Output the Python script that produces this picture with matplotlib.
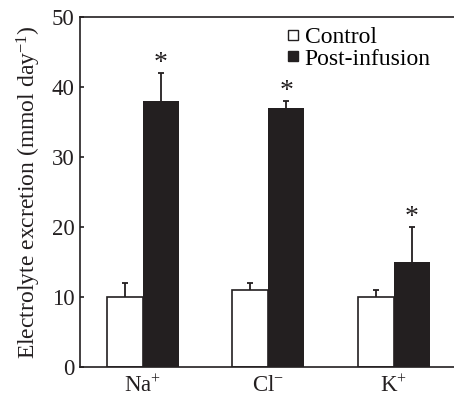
import matplotlib
matplotlib.use("Agg")
import matplotlib.pyplot as plt
import numpy as np
from matplotlib.lines import Line2D

plt.rcParams['font.family'] = ['Liberation Serif', 'DejaVu Serif']
plt.rcParams['mathtext.fontset'] = 'custom'
plt.rcParams['mathtext.rm'] = 'Liberation Serif'
plt.rcParams['mathtext.it'] = 'Liberation Serif:italic'
plt.rcParams['mathtext.bf'] = 'Liberation Serif:bold'

categories = ["Na$^{+}$", "Cl$^{-}$", "K$^{+}$"]
control = [10, 11, 10]
control_err = [2, 1, 1]
post = [38, 37, 15]
post_err = [4, 1, 5]
significant = [True, True, True]

fig = plt.figure(figsize=(4.54, 3.98), dpi=100)
ax = fig.add_axes([0.176, 0.078, 0.824, 0.879])

x = np.arange(len(categories))
w = 0.287
dark = '#231f20'
control = np.array(control)
post = np.array(post)
control_err = np.array(control_err)
post_err = np.array(post_err)

ax.bar(x - w/2, control, w, color='white', edgecolor=dark, linewidth=1.2, zorder=2)
ax.bar(x + w/2, post, w, color=dark, edgecolor='none', linewidth=0, zorder=2)

cap = 0.025
for xs, vals, errs in [(x - w/2, control, control_err), (x + w/2, post, post_err)]:
    ax.vlines(xs, vals, vals + errs, color=dark, linewidth=1.3, zorder=1)
    ax.hlines(vals + errs, xs - cap, xs + cap, color=dark, linewidth=1.3, zorder=1)

for xi, p, e, s in zip(x, post, post_err, significant):
    if s:
        ax.text(xi + w/2, p + e + 1.3, '*', ha='center', va='center', fontsize=20, color=dark)

ax.set_xlim(-0.5, 2.48)
ax.set_ylim(0, 50)
ax.set_yticks([0, 10, 20, 30, 40, 50])
ax.set_xticks(x)
ax.set_xticklabels(categories)
ax.tick_params(axis='y', direction='in', length=3, width=1.2, labelsize=16.5, pad=4, colors=dark)
ax.tick_params(axis='x', length=0, labelsize=16.5, pad=6, colors=dark)
ax.set_ylabel('Electrolyte excretion (mmol day$^{-1}$)', fontsize=17, color=dark, labelpad=6)
for s in ['left', 'bottom', 'top']:
    ax.spines[s].set_linewidth(1.2)
    ax.spines[s].set_color(dark)
ax.spines['right'].set_visible(False)

handles = [Line2D([], [], marker='s', linestyle='none', markersize=7,
                  markerfacecolor='white', markeredgecolor=dark, markeredgewidth=1.0),
           Line2D([], [], marker='s', linestyle='none', markersize=7,
                  markerfacecolor=dark, markeredgecolor=dark)]
ax.legend(handles, ['Control', 'Post-infusion'], loc='upper left',
          bbox_to_anchor=(0.525, 1.0), frameon=False, fontsize=17,
          handlelength=0.6, handletextpad=0.2, labelspacing=0.0, borderpad=0.2,
          borderaxespad=0.2)

fig.savefig('out.png', dpi=100)
